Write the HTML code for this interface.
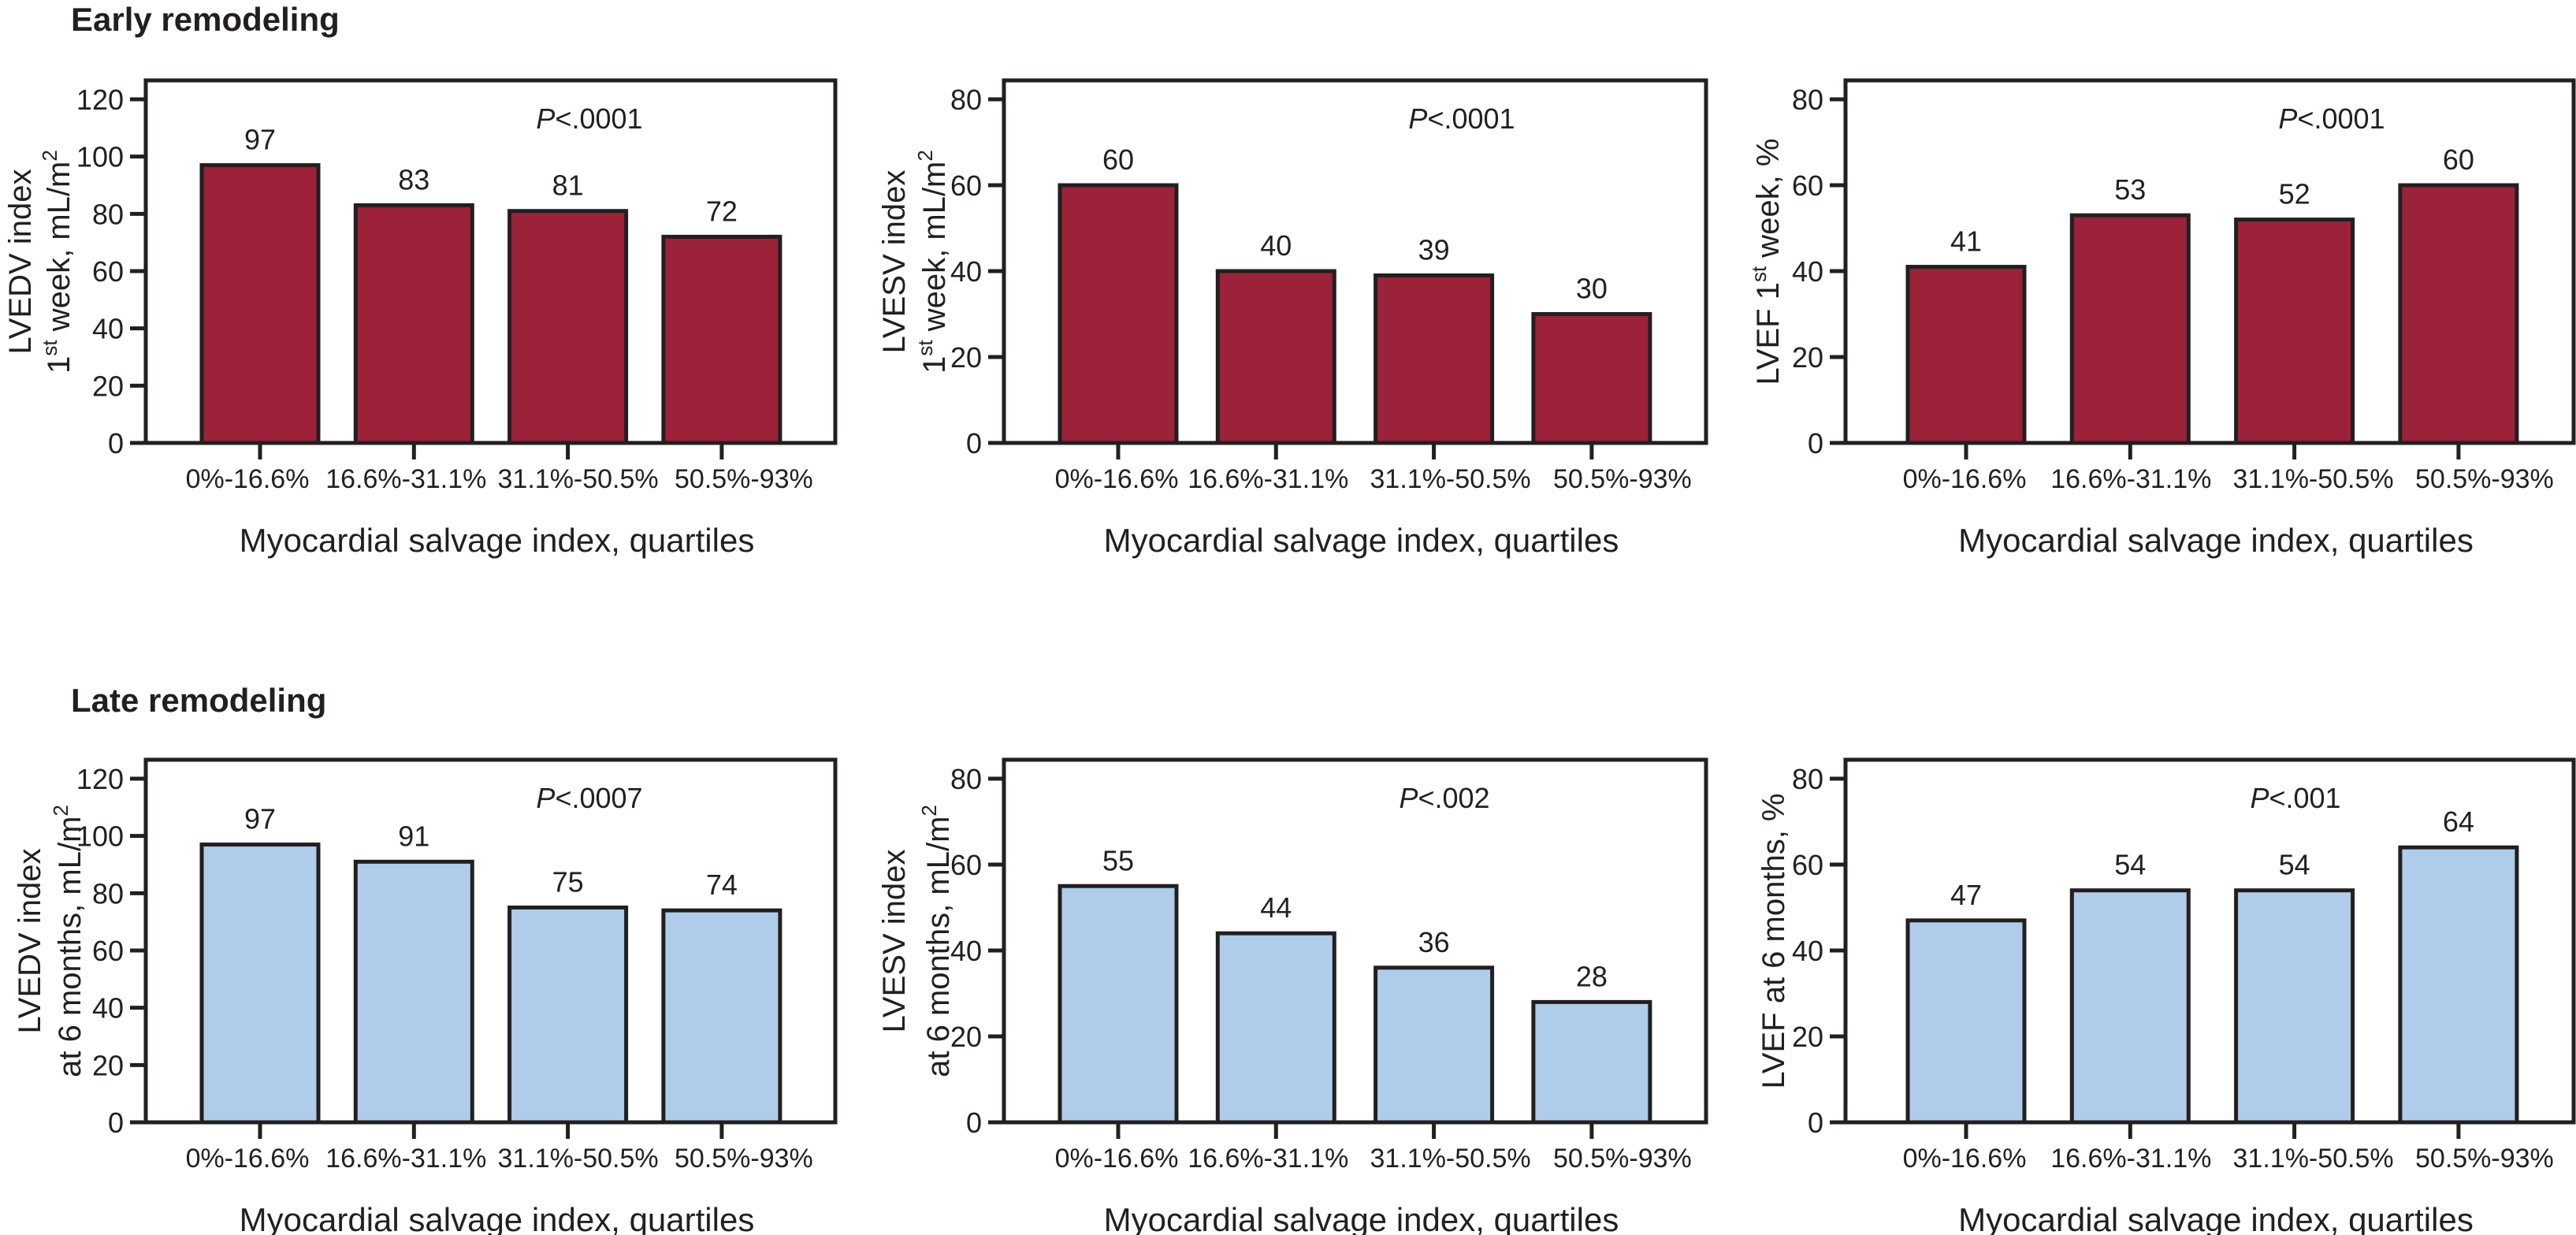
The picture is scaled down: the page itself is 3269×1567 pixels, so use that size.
<!DOCTYPE html>
<html><head><meta charset="utf-8"><style>
html,body{margin:0;padding:0;background:#fff}
svg{display:block}
text{font-family:"Liberation Sans",Arial,sans-serif;fill:#231f20}
</style></head><body>
<svg id="fig" width="3269" height="1567" viewBox="0 0 3269 1567" xmlns="http://www.w3.org/2000/svg">
<text x="90" y="39" font-size="42" font-weight="bold">Early remodeling</text>
<text x="90" y="903" font-size="42" font-weight="bold">Late remodeling</text>
</svg>
<script>
const categories = ["0%-16.6%", "16.6%-31.1%", "31.1%-50.5%", "50.5%-93%"];
const earlyLVEDV = [97, 83, 81, 72];
const earlyLVESV = [60, 40, 39, 30];
const earlyLVEF = [41, 53, 52, 60];
const lateLVEDV = [97, 91, 75, 74];
const lateLVESV = [55, 44, 36, 28];
const lateLVEF = [47, 54, 54, 64];
const ticks120 = [0, 20, 40, 60, 80, 100, 120];
const ticks80 = [0, 20, 40, 60, 80];
const pValues = ["<.0001", "<.0001", "<.0001", "<.0007", "<.002", "<.001"];

const NS = "http://www.w3.org/2000/svg";
const svg = document.getElementById('fig');
function mk(tag, attrs, parent) {
  const e = document.createElementNS(NS, tag);
  for (const k in attrs) e.setAttribute(k, attrs[k]);
  (parent || svg).appendChild(e);
  return e;
}

const off1 = [-16, -10, 13, 28], off2 = [-2, -10, 21, 39], off3 = [-2, 1, 24, 33];
const panels = [
  {vals: earlyLVEDV, ticks: ticks120, max: 120, L: 185, R: 1060, c0: 330, step: 195.3, p: pValues[0], px: 748, dy: 0, color: "#9b2239", off: off1,
   ylab: [["LVEDV index"], ["1", {sup: "st"}, " week, mL/m", {sup: "2"}]], ylx: [25, 74], name: "early-lvedv"},
  {vals: earlyLVESV, ticks: ticks80, max: 80, L: 1274, R: 2165, c0: 1419, step: 200.3, p: pValues[1], px: 1855, dy: 0, color: "#9b2239", off: off2,
   ylab: [["LVESV index"], ["1", {sup: "st"}, " week, mL/m", {sup: "2"}]], ylx: [1134, 1185], name: "early-lvesv"},
  {vals: earlyLVEF, ticks: ticks80, max: 80, L: 2342, R: 3266, c0: 2495, step: 208.3, p: pValues[2], px: 2959, dy: 0, color: "#9b2239", off: off3,
   ylab: [["LVEF 1", {sup: "st"}, " week, %"]], ylx: [2243], name: "early-lvef"},
  {vals: lateLVEDV, ticks: ticks120, max: 120, L: 185, R: 1060, c0: 330, step: 195.3, p: pValues[3], px: 748, dy: 862, color: "#afcdeb", off: off1,
   ylab: [["LVEDV index"], ["at 6 months, mL/m", {sup: "2"}]], ylx: [37, 88], name: "late-lvedv"},
  {vals: lateLVESV, ticks: ticks80, max: 80, L: 1274, R: 2165, c0: 1419, step: 200.3, p: pValues[4], px: 1833, dy: 862, color: "#afcdeb", off: off2,
   ylab: [["LVESV index"], ["at 6 months, mL/m", {sup: "2"}]], ylx: [1134, 1190], name: "late-lvesv"},
  {vals: lateLVEF, ticks: ticks80, max: 80, L: 2342, R: 3266, c0: 2495, step: 208.3, p: pValues[5], px: 2913, dy: 862, color: "#afcdeb", off: off3,
   ylab: [["LVEF at 6 months, %"]], ylx: [2250], name: "late-lvef"}
];

panels.forEach(pn => {
  const g = mk('g', {});
  
  
  const top = 102 + pn.dy, base = 562 + pn.dy;
  const yTop = 126 + pn.dy;
  const y = v => base - v * (base - yTop) / pn.max;
  const x = i => pn.c0 + i * pn.step;
  const sw = 5, stroke = "#231f20";
  pn.vals.forEach((v, i) => {
    const r = mk('rect', {x: x(i) - 74, y: y(v), width: 148, height: base - y(v), fill: pn.color, stroke: stroke, 'stroke-width': sw}, g);
    
    
    const t = mk('text', {x: x(i), y: y(v) - 20, 'font-size': 36, 'text-anchor': 'middle'}, g);
    t.textContent = v;
    
    
  });
  const f = mk('rect', {x: pn.L, y: top, width: pn.R - pn.L, height: base - top, fill: 'none', stroke: stroke, 'stroke-width': sw}, g);
  
  
  pn.ticks.forEach(tv => {
    mk('line', {x1: pn.L - 20, x2: pn.L, y1: y(tv), y2: y(tv), stroke: stroke, 'stroke-width': sw}, g);
    const t = mk('text', {x: pn.L - 28, y: y(tv) + 13, 'font-size': 36, 'text-anchor': 'end'}, g);
    t.textContent = tv;
    
    
  });
  categories.forEach((c, i) => {
    mk('line', {x1: x(i), x2: x(i), y1: base, y2: base + 21, stroke: stroke, 'stroke-width': sw}, g);
    const t = mk('text', {x: x(i) + pn.off[i], y: 619 + pn.dy, 'font-size': 34, 'text-anchor': 'middle'}, g);
    t.textContent = c;
    
    
  });
  const xt = mk('text', {x: (pn.L + pn.R) / 2 + 8, y: 700 + pn.dy, 'font-size': 42, 'text-anchor': 'middle'}, g);
  xt.textContent = "Myocardial salvage index, quartiles";
  
  
  const pt = mk('text', {x: pn.px, y: 163 + pn.dy, 'font-size': 36, 'text-anchor': 'middle'}, g);
  const ip = mk('tspan', {'font-style': 'italic'}, pt); ip.textContent = "P";
  const rest = mk('tspan', {}, pt); rest.textContent = pn.p;
  
  
  const cy = (top + base) / 2;
  pn.ylab.forEach((line, li) => {
    const lx = pn.ylx[li] + 14;
    const t = mk('text', {x: 0, y: 0, 'font-size': 40, 'text-anchor': 'middle', transform: `translate(${lx},${cy}) rotate(-90)`}, g);
    let raised = false;
    line.forEach(part => {
      if (typeof part === 'string') {
        const s = mk('tspan', raised ? {dy: 16} : {}, t); s.textContent = part; raised = false;
      } else {
        const s = mk('tspan', {'font-size': 26, dy: -16}, t); s.textContent = part.sup; raised = true;
      }
    });
    
    
  });
});
</script>
</body></html>
